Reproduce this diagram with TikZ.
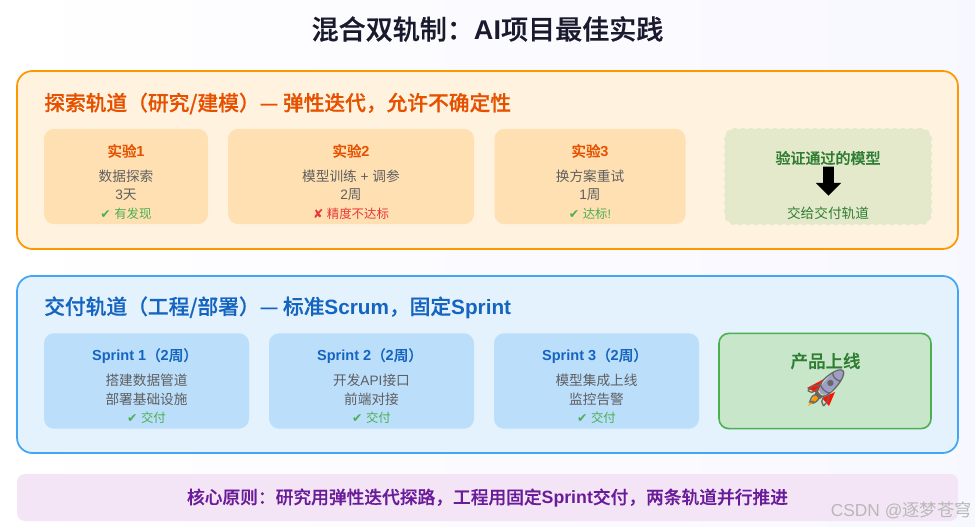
\documentclass[tikz,border=0pt]{standalone}
\usepackage{fontspec}
\usetikzlibrary{shapes.arrows}
\setmainfont{Liberation Sans}
\newfontfamily\cjk[BoldFont={Noto Sans CJK SC Medium},BoldFeatures={FakeBold=0.6}]{Noto Sans CJK SC}
\newfontfamily\dingbat{DejaVu Sans}
\newfontfamily\emojifont{Noto Emoji}
\newcommand{\zh}[1]{{\cjk #1}}
\newcommand{\yes}{{\dingbat\symbol{"2714}}}
\newcommand{\nope}{{\dingbat\symbol{"2718}}}
\newcommand{\zlp}{\symbol{"FF08}}
\newcommand{\zrp}{\symbol{"FF09}}
\newcommand{\zcm}{\symbol{"FF0C}}
\newcommand{\zcl}{\symbol{"FF1A}}
\definecolor{orangeline}{HTML}{FF9800}
\definecolor{orangefill}{HTML}{FFF3E0}
\definecolor{orangecard}{HTML}{FFE0B2}
\definecolor{orangetext}{HTML}{E65100}
\definecolor{blueline}{HTML}{42A5F5}
\definecolor{bluefill}{HTML}{E3F2FD}
\definecolor{bluecard}{HTML}{BBDEFB}
\definecolor{bluetext}{HTML}{1565C0}
\definecolor{greenline}{HTML}{4CAF50}
\definecolor{greencard}{HTML}{C8E6C9}
\definecolor{greentext}{HTML}{2E7D32}
\definecolor{olivecard}{HTML}{E4E9CB}
\definecolor{pinkfill}{HTML}{F3E5F5}
\definecolor{purpletext}{HTML}{6A1B9A}
\definecolor{bodytext}{HTML}{5F5F5F}
\definecolor{redtext}{HTML}{E53935}
\definecolor{titletext}{HTML}{1A1A2E}
\tikzset{
  track/.style={rounded corners=11.5pt,line width=1.3pt,minimum width=705.75pt,minimum height=#1*0.75pt,inner sep=0pt},
  card/.style={rounded corners=7.5pt,minimum width=#1*0.75pt,minimum height=71.5pt,inner sep=0pt},
  tracktitle/.style={anchor=west,inner sep=0pt,font=\bfseries\fontsize{15.55}{18}\selectfont},
  cardtitle/.style={inner sep=0pt,font=\bfseries\fontsize{10.9}{13}\selectfont},
  cardbody/.style={inner sep=0pt,text=bodytext,font=\fontsize{10.25}{12}\selectfont},
  status/.style={inner sep=0pt,font=\fontsize{9.3}{11}\selectfont}
}
\begin{document}
\begin{tikzpicture}[x=0.75pt,y=-0.75pt]
\useasboundingbox (0,0) rectangle (975,527);
\shade[left color=white,right color=blue!3!white] (0,0) rectangle (975,527);
\node[inner sep=0pt,text=titletext,font=\bfseries\fontsize{20.3}{24}\selectfont] (title) at (487.5,29) {\zh{混合双轨制\zcl}AI\zh{项目最佳实践}};

\node[track=178,draw=orangeline,fill=orangefill] (explore) at (487.5,160) {};
\node[tracktitle,text=orangetext] (exploretitle) at (44,103.5) {\zh{探索轨道\zlp 研究/建模\zrp — 弹性迭代\zcm 允许不确定性}};
\node[card=164,fill=orangecard] (exp1) at (126,176.5) {};
\node[card=246,fill=orangecard] (exp2) at (351,176.5) {};
\node[card=191,fill=orangecard] (exp3) at (590,176.5) {};
\node[card=206,fill=olivecard,draw=olivecard,dashed,line width=1.5pt] (verified) at (828,176.5) {};

\node[cardtitle,text=orangetext] (exp1title) at (126,151) {\zh{实验}1};
\node[cardbody] (exp1what) at (126,176) {\zh{数据探索}};
\node[cardbody] (exp1time) at (126,195) {3\zh{天}};
\node[status,text=greenline] (exp1result) at (126,214) {\yes{} \zh{有发现}};
\node[cardtitle,text=orangetext] (exp2title) at (351,151) {\zh{实验}2};
\node[cardbody] (exp2what) at (351,176) {\zh{模型训练} + \zh{调参}};
\node[cardbody] (exp2time) at (351,195) {2\zh{周}};
\node[status,text=redtext] (exp2result) at (351,214) {\nope{} \zh{精度不达标}};
\node[cardtitle,text=orangetext] (exp3title) at (590,151) {\zh{实验}3};
\node[cardbody] (exp3what) at (590,176) {\zh{换方案重试}};
\node[cardbody] (exp3time) at (590,195) {1\zh{周}};
\node[status,text=greenline] (exp3result) at (590,214) {\yes{} \zh{达标}!};
\node[inner sep=0pt,text=greentext,font=\bfseries\fontsize{11.25}{13}\selectfont] (verifiedtitle) at (828,158) {\zh{验证通过的模型}};
\node[single arrow,fill=black,rotate=-90,inner sep=3.75pt,minimum height=21.75pt,single arrow head extend=5.6pt] (handover) at (828.5,178.5) {};
\node[cardbody,text=greentext] (verifiednote) at (828,213) {\zh{交给交付轨道}};

\node[track=177,draw=blueline,fill=bluefill] (deliver) at (487.5,364.5) {};
\node[tracktitle,text=bluetext] (delivertitle) at (44,307.5) {\zh{交付轨道\zlp 工程/部署\zrp — 标准}Scrum\zh{\zcm 固定}Sprint};
\node[card=205,fill=bluecard] (sprint1) at (146.5,381) {};
\node[card=205,fill=bluecard] (sprint2) at (371.5,381) {};
\node[card=205,fill=bluecard] (sprint3) at (596.5,381) {};
\node[card=212,fill=greencard,draw=greenline,line width=1.2pt] (launch) at (825,381) {};

\node[cardtitle,text=bluetext] (sprint1title) at (145,356) {Sprint 1\zh{\zlp}2\zh{周\zrp}};
\node[cardbody] (sprint1a) at (146.5,380) {\zh{搭建数据管道}};
\node[cardbody] (sprint1b) at (146.5,399) {\zh{部署基础设施}};
\node[status,text=greenline] (sprint1result) at (146.5,418) {\yes{} \zh{交付}};
\node[cardtitle,text=bluetext] (sprint2title) at (370,356) {Sprint 2\zh{\zlp}2\zh{周\zrp}};
\node[cardbody] (sprint2a) at (371.5,380) {\zh{开发}API\zh{接口}};
\node[cardbody] (sprint2b) at (371.5,399) {\zh{前端对接}};
\node[status,text=greenline] (sprint2result) at (371.5,418) {\yes{} \zh{交付}};
\node[cardtitle,text=bluetext] (sprint3title) at (595,356) {Sprint 3\zh{\zlp}2\zh{周\zrp}};
\node[cardbody] (sprint3a) at (596.5,380) {\zh{模型集成上线}};
\node[cardbody] (sprint3b) at (596.5,399) {\zh{监控告警}};
\node[status,text=greenline] (sprint3result) at (596.5,418) {\yes{} \zh{交付}};
\node[inner sep=0pt,text=greentext,font=\bfseries\fontsize{13.1}{15}\selectfont] (launchtitle) at (825.5,361) {\zh{产品上线}};
\fill[blue!25!gray!60!white,rounded corners=4pt] (845,369) -- (832,373) -- (817,390) -- (824,397) -- (841,382) -- cycle;
\fill[red!85!orange] (824,379) -- (807,388) -- (817,393) -- cycle;
\fill[red!85!orange] (835,392) -- (829,406) -- (822,398) -- cycle;
\fill[orange!80!yellow] (817,391) -- (823,397) -- (808,406) -- cycle;
\node[inner sep=0pt,text=black!60,font=\fontsize{28}{28}\selectfont] (rocket) at (826,388) {\emojifont\symbol{"1F680}};

\node[rounded corners=6pt,fill=pinkfill,minimum width=705.75pt,minimum height=35.25pt,inner sep=0pt] (principle) at (487.5,497.5) {};
\node[inner sep=0pt,text=purpletext,font=\bfseries\fontsize{13.3}{16}\selectfont] (principletext) at (487.5,498) {\zh{核心原则\zcl 研究用弹性迭代探路\zcm 工程用固定}Sprint\zh{交付\zcm 两条轨道并行推进}};
\node[inner sep=0pt,anchor=east,text=black!28,font=\fontsize{13}{15}\selectfont] (watermark) at (972,510) {CSDN @\zh{逐梦苍穹}};
\end{tikzpicture}
\end{document}
